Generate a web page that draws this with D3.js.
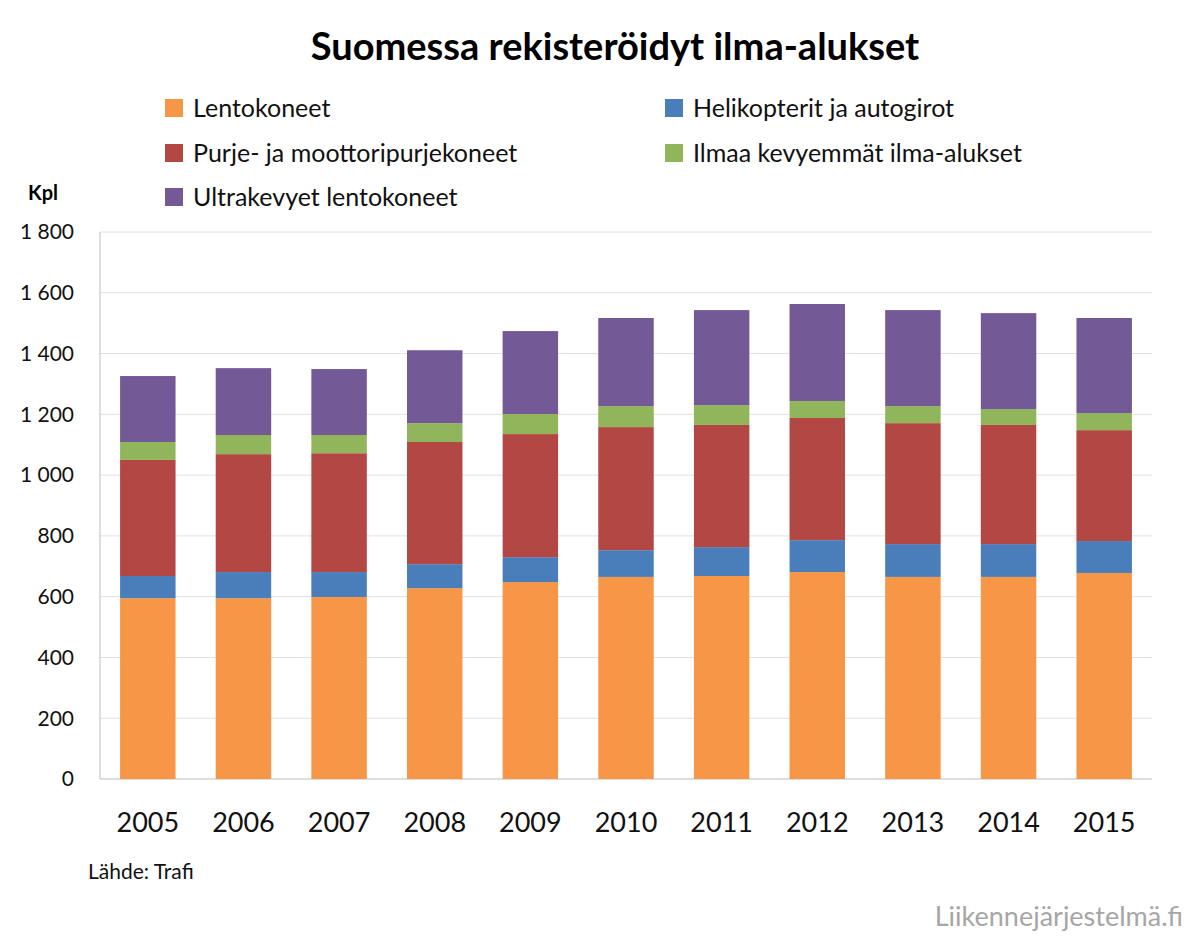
<!DOCTYPE html>
<html><head><meta charset="utf-8">
<script src="https://cdn.jsdelivr.net/npm/d3@7"></script>
<style>body{margin:0;background:#fff}svg{font-family:Lato,"Open Sans",sans-serif}</style>
</head><body>
<svg id="chart" width="1199" height="943"></svg>
<script>
// Tiedot
const years = ["2005","2006","2007","2008","2009","2010","2011","2012","2013","2014","2015"];
const lentokoneet = [595, 595, 599, 628, 648, 665, 668, 681, 665, 665, 678];
const helikopterit = [73, 86, 82, 79, 82, 88, 95, 105, 108, 108, 105];
const purje = [382, 388, 391, 402, 405, 405, 402, 402, 398, 392, 365];
const ilmaaKevyemmat = [59, 63, 60, 62, 66, 69, 65, 56, 56, 52, 56];
const ultrakevyet = [217, 220, 217, 240, 273, 290, 313, 319, 316, 316, 313];
const seriesNames = ["Lentokoneet","Helikopterit ja autogirot","Purje- ja moottoripurjekoneet","Ilmaa kevyemmät ilma-alukset","Ultrakevyet lentokoneet"];
const colors = ["#f79646","#4a7ebb","#b24743","#90b55a","#735996"];
const yTicks = [0,200,400,600,800,1000,1200,1400,1600,1800];

const svg = d3.select('#chart');
const plotLeft = 100, plotRight = 1152, plotTop = 232, plotBottom = 779;

const rows = years.map((y, i) => ({
    year: y, s0: lentokoneet[i], s1: helikopterit[i], s2: purje[i], s3: ilmaaKevyemmat[i], s4: ultrakevyet[i]
}));
const stack = d3.stack().keys(["s0","s1","s2","s3","s4"])(rows);

const x = d3.scaleBand().domain(years).range([plotLeft, plotRight]).paddingInner(0.42).paddingOuter(0.21);
const y = d3.scaleLinear().domain([0, 1800]).range([plotBottom, plotTop]);
const fmt = v => d3.format(",")(v).replace(",", " ");

// Ruudukko
svg.append('g').selectAll('line').data(yTicks.slice(1)).join('line')
   .attr('x1', plotLeft).attr('x2', plotRight)
   .attr('y1', d => y(d)).attr('y2', d => y(d))
   .attr('stroke', '#e0e0e0').attr('stroke-width', 1);
svg.append('line').attr('x1', plotLeft).attr('x2', plotLeft).attr('y1', plotTop).attr('y2', plotBottom).attr('stroke', '#bdbdbd');
svg.append('line').attr('x1', plotLeft).attr('x2', plotRight).attr('y1', plotBottom).attr('y2', plotBottom).attr('stroke', '#bdbdbd');

svg.append('g').selectAll('text').data(yTicks).join('text')
   .attr('x', 74).attr('y', d => y(d)).attr('dy', '0.35em')
   .attr('text-anchor', 'end').attr('font-size', 21).attr('fill', '#111')
   .text(fmt);

svg.append('g').selectAll('g').data(stack).join('g')
   .attr('fill', (d, i) => colors[i])
   .selectAll('rect').data(d => d).join('rect')
   .attr('x', d => x(d.data.year)).attr('width', x.bandwidth())
   .attr('y', d => y(d[1])).attr('height', d => y(d[0]) - y(d[1]));

svg.append('g').selectAll('text').data(years).join('text')
   .attr('x', d => x(d) + x.bandwidth() / 2).attr('y', 832)
   .attr('text-anchor', 'middle').attr('font-size', 27).attr('fill', '#111')
   .text(d => d);

// Otsikko ja selite
svg.append('text').attr('x', 615).attr('y', 60).attr('text-anchor', 'middle')
   .attr('font-size', 38).attr('font-weight', 'bold').text('Suomessa rekisteröidyt ilma-alukset');

const legendPos = [[165,108],[665,108],[165,153],[665,153],[165,197]];
seriesNames.forEach((name, i) => {
    const [lx, ly] = legendPos[i];
    svg.append('rect').attr('x', lx).attr('y', ly - 9).attr('width', 18).attr('height', 18).attr('fill', colors[i]);
    svg.append('text').attr('x', lx + 28).attr('y', ly).attr('dy', '0.35em')
       .attr('font-size', 25).attr('fill', '#111').text(name);
});

svg.append('text').attr('x', 28).attr('y', 200).attr('font-size', 20).attr('font-weight', 'bold').text('Kpl');
svg.append('text').attr('x', 88).attr('y', 879).attr('font-size', 21).attr('fill', '#111').text('Lähde: Trafi');
svg.append('text').attr('x', 1183).attr('y', 926).attr('text-anchor', 'end')
   .attr('font-size', 27).attr('fill', '#a6a6a6').text('Liikennejärjestelmä.fi');
</script>
</body></html>
